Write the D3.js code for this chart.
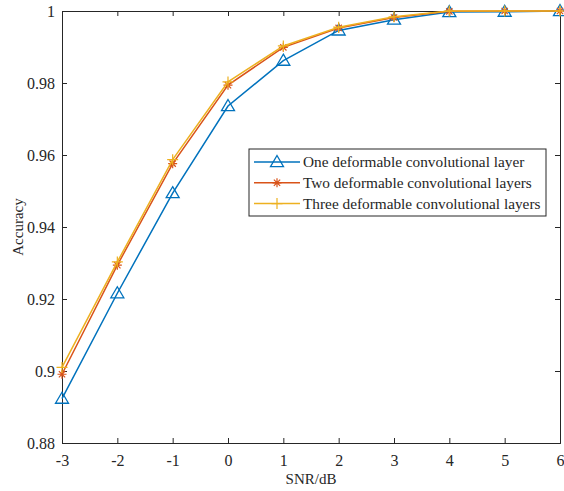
<!DOCTYPE html>
<html>
<head>
<meta charset="utf-8">
<script src="https://cdn.jsdelivr.net/npm/d3@7"></script>
<style>
  body { margin: 0; background: #fff; }
  svg text { font-family: "Liberation Serif", serif; fill: #262626; }
</style>
</head>
<body>
<div id="vis"></div>
<script>
const W = 564, H = 491;
const margin = { top: 11, right: 4, bottom: 48, left: 62 };
const width = W - margin.left - margin.right;
const height = H - margin.top - margin.bottom;

// Data
const snr = [-3, -2, -1, 0, 1, 2, 3, 4, 5, 6];
const oneLayer = [0.8923, 0.9216, 0.9494, 0.9736, 0.9862, 0.9946, 0.9976, 0.9997, 0.9998, 1.0];
const twoLayers = [0.8991, 0.9294, 0.9576, 0.9794, 0.9899, 0.9953, 0.9982, 0.9999, 1.0, 1.0];
const threeLayers = [0.9010, 0.9303, 0.9587, 0.9803, 0.9903, 0.9955, 0.9984, 1.0, 1.0, 1.0];
const seriesNames = ["One deformable convolutional layer", "Two deformable convolutional layers", "Three deformable convolutional layers"];
const yTicks = [0.88, 0.9, 0.92, 0.94, 0.96, 0.98, 1];

const colors = ["#0072BD", "#D95319", "#EDB120"];
const markers = ["triangle", "asterisk", "plus"];
const series = [oneLayer, twoLayers, threeLayers];

const svgRoot = d3.select("#vis").append("svg").attr("width", W).attr("height", H);
const svg = svgRoot.append("g").attr("transform", `translate(${margin.left},${margin.top})`);

const x = d3.scaleLinear().domain([-3, 6]).range([0, width]);
const y = d3.scaleLinear().domain([0.88, 1]).range([height, 0]);

const axisColor = "#262626";
const tickLen = 5;

// axes (MATLAB-style, ticks inward, box on)
const xAxis = svg.append("g").attr("transform", `translate(0,${height})`)
  .call(d3.axisBottom(x).tickValues(snr).tickFormat(d => String(d)).tickSize(-tickLen).tickPadding(12));
const yAxis = svg.append("g")
  .call(d3.axisLeft(y).tickValues(yTicks).tickFormat(d => String(+d.toFixed(2))).tickSize(-tickLen).tickPadding(7));
const xTop = svg.append("g")
  .call(d3.axisTop(x).tickValues(snr).tickFormat("").tickSize(-tickLen));
const yRight = svg.append("g").attr("transform", `translate(${width},0)`)
  .call(d3.axisRight(y).tickValues(yTicks).tickFormat("").tickSize(-tickLen));

[xAxis, yAxis, xTop, yRight].forEach(g => {
  g.attr("font-family", null).attr("font-size", null);
  g.selectAll(".domain").attr("stroke", axisColor).attr("stroke-width", 1);
  g.selectAll(".tick line").attr("stroke", axisColor).attr("stroke-width", 1);
  g.selectAll(".tick text")
    .attr("font-family", "Liberation Serif")
    .style("font-size", "16px").attr("fill", axisColor);
});

// axis labels
svg.append("text")
  .attr("x", width / 2).attr("y", height + 41)
  .attr("text-anchor", "middle").style("font-size", "15px")
  .text("SNR/dB");

svg.append("text")
  .attr("transform", "rotate(-90)")
  .attr("x", -height / 2).attr("y", -margin.left + 23)
  .attr("text-anchor", "middle").style("font-size", "15px")
  .text("Accuracy");

function drawMarker(g, type, cx, cy, color) {
  if (type === "triangle") {
    const s = 6.5;
    g.append("path")
      .attr("d", `M${cx},${cy - s}L${cx + s},${cy + s * 0.7}L${cx - s},${cy + s * 0.7}Z`)
      .attr("fill", "none").attr("stroke", color).attr("stroke-width", 1.3);
  } else if (type === "asterisk") {
    const s = 4.5;
    const d = `M${cx - s},${cy}L${cx + s},${cy}M${cx},${cy - s}L${cx},${cy + s}` +
      `M${cx - s * 0.7},${cy - s * 0.7}L${cx + s * 0.7},${cy + s * 0.7}` +
      `M${cx - s * 0.7},${cy + s * 0.7}L${cx + s * 0.7},${cy - s * 0.7}`;
    g.append("path").attr("d", d).attr("stroke", color).attr("stroke-width", 1.2).attr("fill", "none");
  } else {
    const s = 5.5;
    g.append("path")
      .attr("d", `M${cx - s},${cy}L${cx + s},${cy}M${cx},${cy - s}L${cx},${cy + s}`)
      .attr("stroke", color).attr("stroke-width", 1.2).attr("fill", "none");
  }
}

const line = d3.line().x((d, i) => x(snr[i])).y(d => y(d));

series.forEach((vals, k) => {
  const g = svg.append("g");
  g.append("path").datum(vals)
    .attr("d", line)
    .attr("fill", "none")
    .attr("stroke", colors[k])
    .attr("stroke-width", 1.5);
  vals.forEach((v, i) => drawMarker(g, markers[k], x(snr[i]), y(v), colors[k]));
});

// legend
const lg = svgRoot.append("g").attr("transform", "translate(249,149)");
lg.append("rect").attr("width", 297).attr("height", 67)
  .attr("fill", "#fff").attr("stroke", axisColor).attr("stroke-width", 1);
seriesNames.forEach((name, k) => {
  const ry = 13 + k * 20.8;
  lg.append("line").attr("x1", 5).attr("x2", 51).attr("y1", ry).attr("y2", ry)
    .attr("stroke", colors[k]).attr("stroke-width", 1.5);
  drawMarker(lg, markers[k], 28, ry, colors[k]);
  lg.append("text").attr("x", 54).attr("y", ry + 5)
    .style("font-size", "15.3px").attr("fill", "#000").text(name);
});
</script>
</body>
</html>
